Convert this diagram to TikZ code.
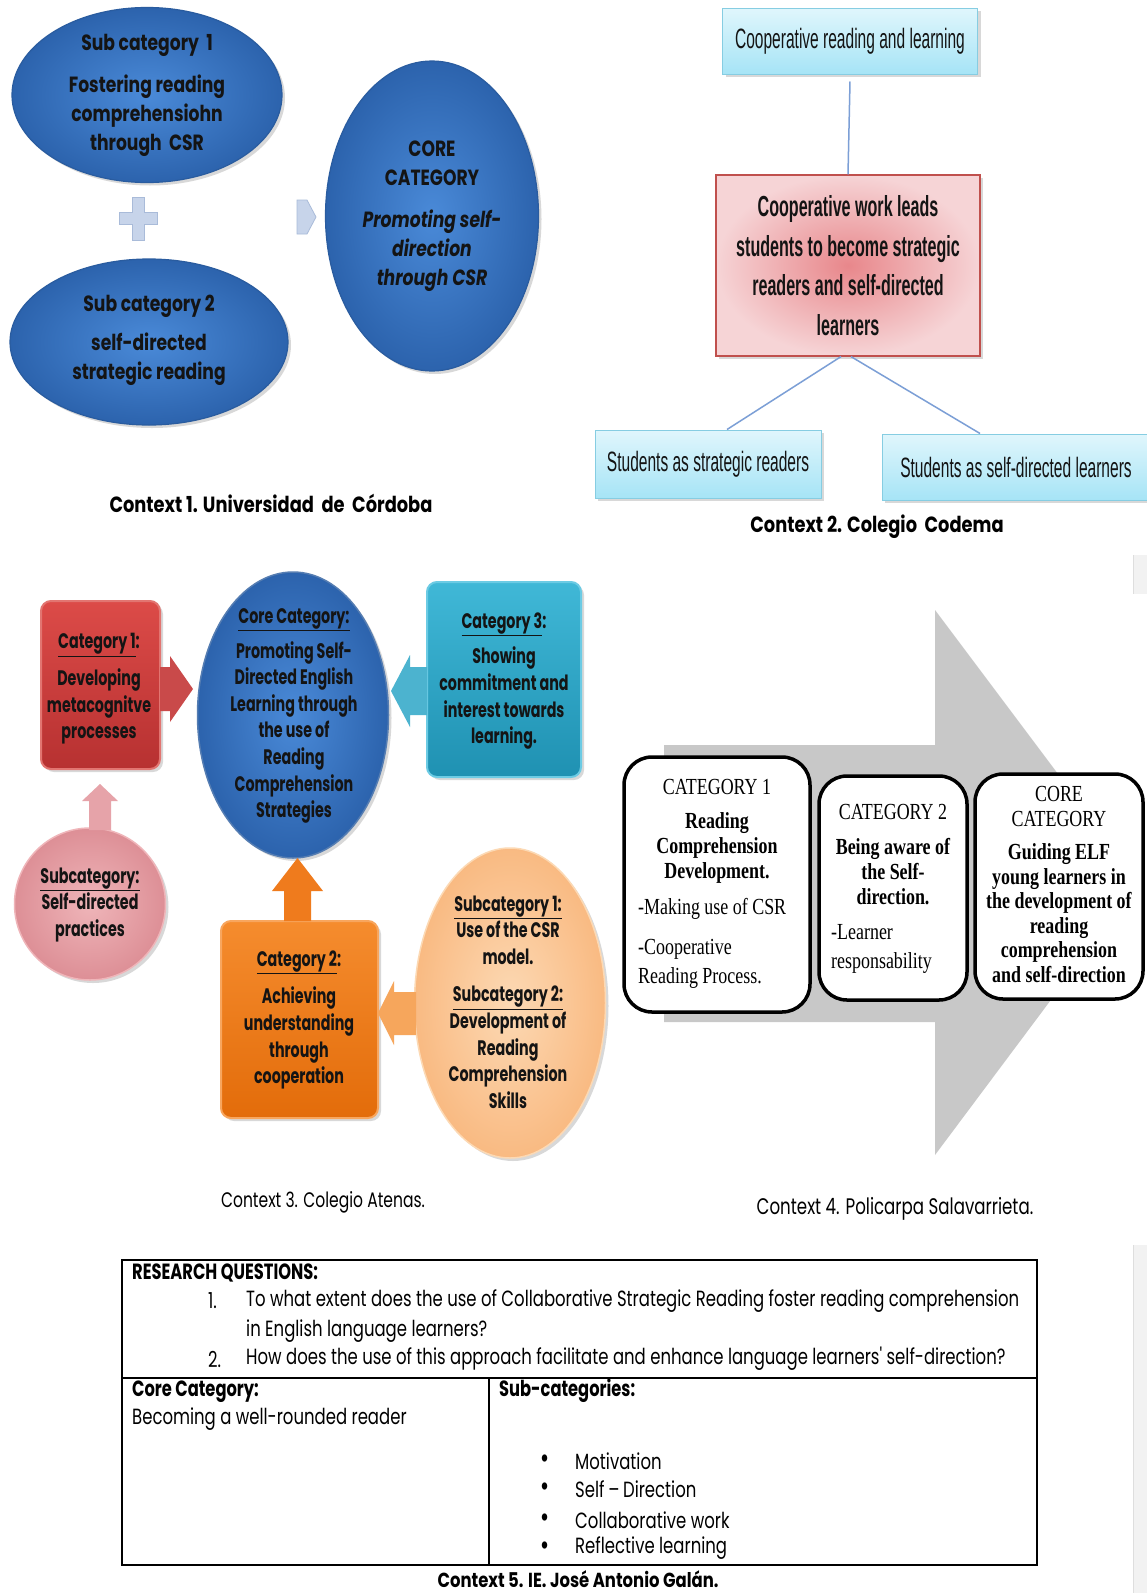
\documentclass[tikz,border=0pt]{standalone}
\usepackage{fontspec}
\usetikzlibrary{shadows,calc,shapes.geometric}
\newfontfamily\gA{Poppins}[FakeStretch=0.78]
\newfontfamily\gK{Poppins}[FakeStretch=0.81]
\newfontfamily\gB{Poppins}[FakeStretch=0.68]
\newfontfamily\gC{Poppins}[FakeStretch=0.75]
\newfontfamily\gD{Poppins}[FakeStretch=0.74]
\newfontfamily\nar{Liberation Sans}[FakeStretch=0.555]
\newfontfamily\tms{Liberation Serif}[FakeStretch=0.78]
\newcommand\fs[2]{\fontsize{#1}{#2}\selectfont}
\definecolor{txtd}{HTML}{141414}
\definecolor{bIn}{HTML}{4A8AD8}
\definecolor{bOut}{HTML}{2C63AD}
\definecolor{bDr}{HTML}{2A5C9F}
\definecolor{plusF}{HTML}{C7D4EA}
\definecolor{plusD}{HTML}{A9BBD9}
\definecolor{cyT}{HTML}{E0F6FC}
\definecolor{cyB}{HTML}{A6E4F6}
\definecolor{cyD}{HTML}{86CDE2}
\definecolor{rdIn}{HTML}{E8878B}
\definecolor{rdOut}{HTML}{F6D4D6}
\definecolor{rdD}{HTML}{C0504D}
\definecolor{lnC}{HTML}{7C9FD6}
\definecolor{r3T}{HTML}{DC4B48}
\definecolor{r3B}{HTML}{B73131}
\definecolor{r3D}{HTML}{E27571}
\definecolor{r3A}{HTML}{C94A4A}
\definecolor{tT}{HTML}{40B8D7}
\definecolor{tB}{HTML}{1F91B2}
\definecolor{tD}{HTML}{6CCBE4}
\definecolor{tA}{HTML}{4CB3CF}
\definecolor{pIn}{HTML}{EFB5B9}
\definecolor{pOut}{HTML}{DD8F96}
\definecolor{pA}{HTML}{E6A3A9}
\definecolor{oT}{HTML}{F58C2E}
\definecolor{oB}{HTML}{E36C0A}
\definecolor{oD}{HTML}{F8A65E}
\definecolor{oA}{HTML}{EF7B1D}
\definecolor{peIn}{HTML}{FCD9B4}
\definecolor{peOut}{HTML}{F9BA82}
\definecolor{peA}{HTML}{F6A65C}
\definecolor{grA}{HTML}{C8C8C8}
\tikzset{
  shd/.style={drop shadow={opacity=0.3,shadow xshift=3pt,shadow yshift=-3pt}},
  blueell/.style={ellipse,inner sep=0pt,inner color=bIn,outer color=bOut,draw=bDr,line width=1.2pt,shd},
  t1/.style={font=\gA\bfseries\fs{22}{29},align=center,text=txtd,inner sep=0pt},
  cybox/.style={rectangle,top color=cyT,bottom color=cyB,draw=cyD,line width=1pt,shd,font=\nar\fs{28}{30},text=txtd},
  c2line/.style={draw=lnC,line width=1.5pt},
  rbox/.style={rounded corners=10pt,line width=2pt,shd},
  t3/.style={font=\gB\bfseries\fs{21}{26.6},align=center,text=txtd,inner sep=0pt},
  wbox/.style={rectangle,rounded corners=28pt,draw=black,line width=3.5pt,fill=white,inner sep=0pt},
  t4/.style={font=\tms\fs{23}{25},align=center,text=black,inner sep=0pt},
  t4l/.style={font=\tms\fs{23}{29},align=left,text=black,inner sep=0pt,anchor=west},
  t5/.style={font=\gC\fs{22}{30},text=black,inner sep=0pt,anchor=west},
  t5b/.style={font=\gD\bfseries\fs{22}{30},text=black,inner sep=0pt,anchor=west},
  captxt/.style={font=\gK\bfseries\fs{22}{24},text=black,inner sep=0pt},
  capreg/.style={font=\gC\fs{21}{24},text=black,inner sep=0pt},
}
\begin{document}
\begin{tikzpicture}[x=1pt,y=-1pt]
\useasboundingbox (0,0) rectangle (1147,1593);
\fill[white] (0,0) rectangle (1147,1593);
% side strips
\fill[black!5] (1133,555) rectangle (1147,594);
\draw[black!13,line width=1pt] (1133.5,555) -- (1133.5,594);
\fill[black!5] (1133,1245) rectangle (1147,1593);
\draw[black!13,line width=1pt] (1133.5,1245) -- (1133.5,1593);

% ---------------- Context 1
\node[blueell,minimum width=270,minimum height=175] (s1) at (147,95) {};
\node[blueell,minimum width=278,minimum height=166] (s2) at (149,342) {};
\node[blueell,minimum width=213,minimum height=310] (core1) at (432,216) {};
\node[t1] (s1t) at (s1.center) {Sub category\ \ 1\\[13pt]Fostering reading\\comprehensiohn\\through\ \ CSR};
\node[t1] (s2t) at ($(s2.center)+(0,-2)$) {Sub category 2\\[10pt]self-directed\\strategic reading};
\node[t1] (core1t) at (core1.center) {CORE\\CATEGORY\\[13pt]\textit{Promoting self-}\\\textit{direction}\\\textit{through CSR}};
\fill[plusF,draw=plusD,line width=0.8pt] (132,197) -- (144,197) -- (144,212) -- (157,212) -- (157,224) -- (144,224) -- (144,240) -- (132,240) -- (132,224) -- (119,224) -- (119,212) -- (132,212) -- cycle;
\fill[plusF,draw=plusD,line width=0.8pt] (297,200) -- (307,200) -- (316,217) -- (307,234) -- (297,234) -- cycle;
\node[captxt] (cap1) at (271,503) {Context 1. Universidad\ \ de\ \ Córdoba};

% ---------------- Context 2
\node[cybox,minimum width=255,minimum height=66] (cr) at (850,41) {Cooperative reading and learning};
\node[rectangle,inner color=rdIn,outer color=rdOut,draw=rdD,line width=1.2pt,shd,minimum width=264,minimum height=181,font=\nar\bfseries\fs{29}{39.6},align=center,text=txtd] (cw) at (848,265.5) {Cooperative work leads\\students to become strategic\\readers and self-directed\\learners};
\node[cybox,minimum width=226,minimum height=68] (sl) at (708,464) {Students as strategic readers};
\node[cybox,minimum width=278,minimum height=66] (sr) at (1021,467) {\hspace*{-10pt}Students as self-directed learners};
\draw[c2line] ($(cr.south)+(0,7)$) -- (cw.north);
\draw[c2line] ($(cw.south)+(-7,0)$) -- ($(sl.north)+(19,0)$);
\draw[c2line] ($(cw.south)+(3,0)$) -- ($(sr.north)+(-41,0)$);
\node[captxt] (cap2) at (877,527) {Context 2. Colegio\ \ Codema};

% ---------------- Context 3
\node[rbox,top color=r3T,bottom color=r3B,draw=r3D,minimum width=119,minimum height=168] (c31) at (100.5,685) {};
\node[rbox,top color=tT,bottom color=tB,draw=tD,minimum width=154,minimum height=195] (c33) at (504,679.5) {};
\node[rbox,top color=oT,bottom color=oB,draw=oD,minimum width=157,minimum height=197] (c32) at (299.5,1019.5) {};
\node[ellipse,inner sep=0pt,inner color=bIn,outer color=bOut,draw=bDr!80!white,line width=1.5pt,shd,minimum width=191,minimum height=286] (core3) at (293,715) {};
\node[ellipse,inner sep=0pt,inner color=pIn,outer color=pOut,draw=pIn,line width=1.5pt,shd,minimum width=151,minimum height=152] (sub3) at (90,904) {};
\node[ellipse,inner sep=0pt,inner color=peIn,outer color=peOut,draw=peIn,line width=1.5pt,shd,minimum width=191,minimum height=310] (pe3) at (510,1003) {};
% block arrows
\fill[r3A] (160,667) -- (170,667) -- (170,656) -- (193,689) -- (170,722) -- (170,711) -- (160,711) -- cycle;
\fill[tA] (427,667) -- (410,667) -- (410,655) -- (391,691) -- (410,727) -- (410,715) -- (427,715) -- cycle;
\fill[pA] (89,830) -- (89,801) -- (82,801) -- (100,784) -- (118,801) -- (111,801) -- (111,830) -- cycle;
\fill[oA] (284,921) -- (284,891) -- (272,891) -- (297.5,858) -- (323,891) -- (311,891) -- (311,921) -- cycle;
\fill[peA] (416,992) -- (394,992) -- (394,981) -- (378,1013) -- (394,1045) -- (394,1035) -- (416,1035) -- cycle;
\node[t3] (c31t) at (99,689) {\underline{Category 1}:\\[10pt]Developing\\metacognitve\\processes};
\node[t3] (core3t) at (294,716) {\underline{Core Category:}\\[8pt]Promoting Self-\\Directed English\\Learning through\\the use of\\Reading\\Comprehension\\Strategies};
\node[t3] (c33t) at (504,681) {\underline{Category 3}:\\[9pt]Showing\\commitment and\\interest towards\\learning.};
\node[t3] (sub3t) at (90,905) {\underline{Subcategory:}\\Self-directed\\practices};
\node[t3] (c32t) at (299,1020) {\underline{Category 2}:\\[11pt]Achieving\\understanding\\through\\cooperation};
\node[t3] (pe3t) at (508,1002) {\underline{Subcategory 1:}\\Use of the CSR\\model.\\[11pt]\underline{Subcategory 2:}\\Development of\\Reading\\Comprehension\\Skills};
\node[capreg,font=\gD\fs{21}{24}] (cap3) at (323,1202) {Context 3. Colegio Atenas.};

% ---------------- Context 4
\fill[grA] (664,745) -- (935,745) -- (935,610) -- (1139,882) -- (935,1155) -- (935,1022) -- (664,1022) -- cycle;
\node[wbox,minimum width=186,minimum height=255] (b1) at (717,884.5) {};
\node[wbox,minimum width=148,minimum height=224] (b2) at (893,888) {};
\node[wbox,minimum width=168,minimum height=225] (b3) at (1059,886.5) {};
\node[t4] (b1t) at (717,831) {CATEGORY 1\\[9pt]\textbf{Reading}\\\textbf{Comprehension}\\\textbf{Development.}};
\node[t4l] (b1m) at (638,909) {-Making use of CSR};
\node[t4l] (b1c) at (638,964) {-Cooperative\\Reading Process.};
\node[t4] (b2t) at (893,855) {CATEGORY 2\\[10pt]\textbf{Being aware of}\\\textbf{the Self-}\\\textbf{direction.}};
\node[t4l] (b2l) at (831,949) {-Learner\\responsability};
\node[t4,font=\tms\fs{23}{24.5}] (b3t) at (1059,884.5) {CORE\\CATEGORY\\[9pt]\textbf{Guiding ELF}\\\textbf{young learners in}\\\textbf{the development of}\\\textbf{reading}\\\textbf{comprehension}\\\textbf{and self-direction}};
\node[capreg,font=\gD\fs{22.5}{24}] (cap4) at (895,1209) {Context 4. Policarpa Salavarrieta.};

% ---------------- Context 5
\draw[black,line width=1.6pt] (122,1260) rectangle (1037,1565);
\draw[black,line width=2.2pt] (122,1378) -- (1037,1378);
\draw[black,line width=1.2pt] (489,1378) -- (489,1565);
\node[t5b] (rq) at (132,1273) {RESEARCH QUESTIONS:};
\node[t5] (q1n) at (208,1301) {1.};
\node[t5] (q1) at (246,1301) {To what extent does the use of Collaborative Strategic Reading foster reading comprehension};
\node[t5] (q1b) at (246,1331) {in English language learners?};
\node[t5] (q2n) at (208,1359) {2.};
\node[t5] (q2) at (246,1359) {How does the use of this approach facilitate and enhance language learners' self-direction?};
\node[t5b] (cc) at (132,1392) {Core Category:};
\node[t5] (ccb) at (132,1419) {Becoming a well-rounded reader};
\node[t5b] (sc) at (499,1391) {Sub-categories:};
\node[t5,font=\gC\bfseries\fs{24}{30}] (bu1) at (540,1461) {•};
\node[t5] (it1) at (575,1461) {Motivation};
\node[t5,font=\gC\bfseries\fs{24}{30}] (bu2) at (540,1489) {•};
\node[t5] (it2) at (575,1489) {Self\,–\,Direction};
\node[t5,font=\gC\bfseries\fs{24}{30}] (bu3) at (540,1520) {•};
\node[t5] (it3) at (575,1520) {Collaborative work};
\node[t5,font=\gC\bfseries\fs{24}{30}] (bu4) at (540,1548) {•};
\node[t5] (it4) at (575,1548) {Reflective learning};
\node[t5b,anchor=center,font=\gK\bfseries\fs{20.3}{24}] (cap5) at (578,1579) {Context 5. IE. José Antonio Galán.};
\end{tikzpicture}
\end{document}
